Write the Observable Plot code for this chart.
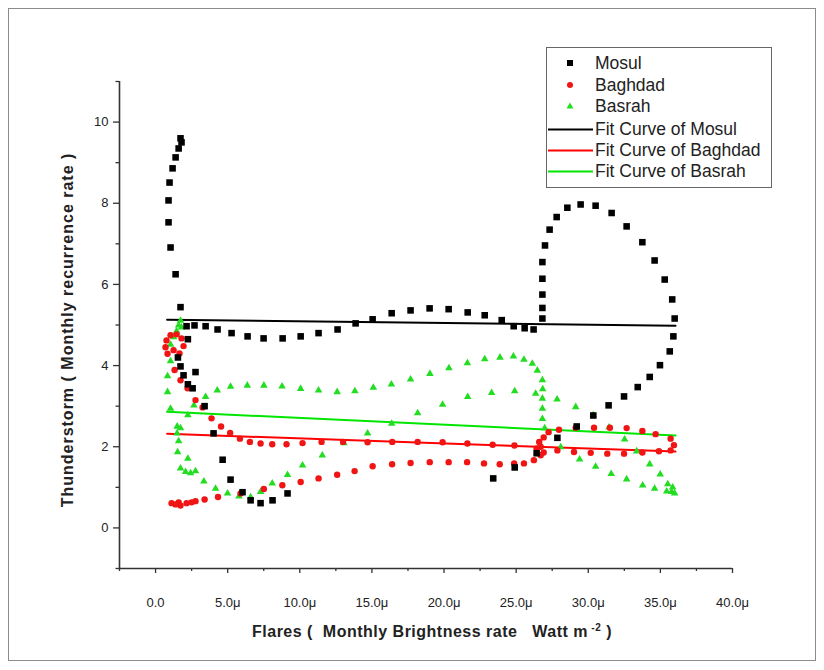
<!DOCTYPE html>
<html><head><meta charset="utf-8">
<script src="https://cdn.jsdelivr.net/npm/d3@7"></script>
<script src="https://cdn.jsdelivr.net/npm/@observablehq/plot@0.6"></script>
<style>
body{margin:0;background:#fff;}
#wrap{position:relative;width:824px;height:670px;font-family:"Liberation Sans",Arial,sans-serif;overflow:hidden;}
#frame{position:absolute;left:8px;top:8px;width:808px;height:653px;border:1.5px solid #8c8c8c;box-sizing:border-box;pointer-events:none;}
#chart{position:absolute;left:0;top:0;}
#xtitle{position:absolute;left:0;width:864px;top:622px;text-align:center;font-weight:bold;font-size:16px;letter-spacing:0.5px;color:#222;white-space:pre;}
#xtitle sup{font-size:10px;}
#ytitle{position:absolute;left:68px;top:330px;transform:translate(-50%,-50%) rotate(-90deg);font-weight:bold;font-size:16px;letter-spacing:1px;color:#222;white-space:pre;}
#legend{position:absolute;left:546px;top:47px;width:226px;height:141px;border:1.2px solid #666;box-sizing:border-box;background:#fff;}
.lg{position:absolute;left:0;height:20px;font-size:17.5px;color:#222;white-space:nowrap;}
.lg span{position:absolute;left:48px;top:-1px;}
.lg svg{position:absolute;left:0;top:0;}
</style>
</head><body>
<div id="wrap">
  <div id="chart"></div>
  <div id="ytitle">Thunderstorm ( Monthly recurrence rate )</div>
  <div id="xtitle">Flares (  Monthly Brightness rate   Watt m<sup> -2</sup> )</div>
  <div id="legend"></div>
  <div id="frame"></div>
</div>
<script>
// ---- Data (x in micro-Watt m^-2, y = monthly thunderstorm recurrence) ----
const mosulX = [1.73,1.80,1.60,1.39,1.18,0.97,0.90,0.90,1.04,1.39,1.73,
  2.15,2.70,3.47,4.30,5.27,6.38,7.49,8.81,10.06,11.30,12.62,13.87,15.05,16.37,17.68,19.00,20.32,21.64,22.82,24.00,24.83,25.59,26.21,
  26.82,26.82,26.82,26.82,26.82,27.00,27.32,27.81,28.55,29.47,30.51,31.62,32.66,33.75,34.60,35.30,35.82,35.99,35.90,35.65,34.97,34.26,33.43,32.48,31.41,30.35,29.20,27.86,26.42,24.90,23.41,
  2.24,1.55,1.73,1.94,2.24,2.57,2.77,3.40,4.02,4.65,5.20,6.03,6.59,7.28,8.11,9.15];
const mosulY = [9.60,9.50,9.35,9.13,8.86,8.51,8.07,7.53,6.91,6.25,5.44,
  4.97,4.99,4.97,4.89,4.80,4.72,4.67,4.67,4.72,4.80,4.89,5.04,5.14,5.29,5.36,5.41,5.39,5.31,5.24,5.12,4.97,4.92,4.89,
  5.16,5.42,5.75,6.14,6.55,6.96,7.35,7.66,7.89,7.97,7.94,7.76,7.43,7.04,6.59,6.12,5.63,5.16,4.72,4.35,4.01,3.72,3.47,3.24,3.02,2.77,2.50,2.22,1.84,1.49,1.22,
  4.65,4.20,3.98,3.76,3.54,3.44,3.84,3.00,2.33,1.68,1.19,0.88,0.68,0.61,0.68,0.85];

const baghdadX = [0.76,1.04,1.46,1.80,0.69,1.94,0.83,1.25,1.66,
  1.32,1.73,2.22,2.77,3.26,3.88,4.54,5.17,5.85,6.54,7.28,8.09,9.08,10.19,11.51,13.00,14.70,16.41,18.17,19.90,21.62,23.37,24.88,26.42,
  26.70,26.60,26.91,27.25,27.97,29.13,30.40,31.50,32.66,33.75,34.67,35.71,35.94,35.71,34.90,33.75,32.48,31.32,30.17,29.01,27.86,26.91,26.70,26.23,25.54,
  24.86,23.86,22.77,21.60,20.32,19.01,17.68,16.40,15.05,13.80,12.59,11.30,10.06,8.79,7.51,5.89,4.33,3.40,
  2.77,2.50,2.15,1.73,1.60,1.39,1.11];
const baghdadY = [4.62,4.75,4.77,4.67,4.45,4.48,4.29,4.38,4.30,
  3.89,3.64,3.44,3.15,2.97,2.70,2.50,2.34,2.20,2.12,2.08,2.06,2.06,2.09,2.12,2.12,2.11,2.12,2.12,2.11,2.08,2.05,2.03,1.96,
  2.00,2.12,2.23,2.36,2.42,2.47,2.47,2.47,2.46,2.39,2.31,2.20,2.04,1.91,1.89,1.86,1.83,1.83,1.85,1.87,1.91,1.86,1.79,1.67,1.59,
  1.59,1.57,1.59,1.62,1.62,1.62,1.60,1.57,1.52,1.40,1.31,1.22,1.13,1.05,0.96,0.85,0.76,0.70,
  0.66,0.63,0.61,0.55,0.63,0.58,0.61];

const basrahX = [1.73,1.60,1.80,1.46,1.25,1.04,
  1.04,0.83,0.83,1.04,
  1.50,1.73,1.49,1.60,1.53,2.24,1.73,2.08,2.43,2.77,3.35,4.16,4.99,5.78,6.59,7.28,8.09,9.15,10.19,11.56,13.06,14.70,16.37,18.17,19.90,21.64,23.30,24.90,26.35,
  2.24,2.66,3.47,4.28,5.20,6.36,7.51,8.77,10.06,11.30,12.59,13.82,15.10,16.35,17.68,19.02,20.34,21.62,22.82,23.88,24.81,25.54,26.12,26.47,
  26.82,26.84,26.82,26.82,26.82,26.98,
  27.84,29.13,30.34,31.44,32.52,33.36,34.26,34.99,35.51,35.78,
  28.09,29.40,30.51,31.59,32.66,33.77,34.60,35.44,35.99,35.85];
const basrahY = [5.11,4.99,4.94,4.85,4.70,4.52,
  4.11,3.74,3.35,2.94,
  2.50,2.46,2.33,2.14,1.87,1.71,1.47,1.38,1.35,1.40,1.15,0.97,0.85,0.78,0.76,0.89,1.10,1.31,1.54,1.79,2.09,2.33,2.57,2.83,3.04,3.23,3.33,3.37,3.31,
  2.78,3.02,3.23,3.39,3.48,3.51,3.51,3.49,3.43,3.39,3.35,3.37,3.46,3.54,3.66,3.80,3.94,4.06,4.16,4.20,4.23,4.15,4.05,3.88,
  3.64,3.42,3.19,2.94,2.69,2.46,
  3.17,2.98,2.78,2.48,2.18,1.89,1.57,1.32,1.08,0.89,
  1.99,1.69,1.51,1.33,1.20,1.05,0.97,0.90,0.85,1.00];

// Linear fit curves (end points)
const fitX = [0.8, 36.05];
const fitMosul = [5.13, 4.98];
const fitBaghdad = [2.32, 1.88];
const fitBasrah = [2.86, 2.28];

// Axes
const xTicks = [0, 5, 10, 15, 20, 25, 30, 35, 40];
const xTickLabels = ["0.0","5.0\u03bc","10.0\u03bc","15.0\u03bc","20.0\u03bc","25.0\u03bc","30.0\u03bc","35.0\u03bc","40.0\u03bc"];
const xMinor = [-2.5, 2.5, 7.5, 12.5, 17.5, 22.5, 27.5, 32.5, 37.5];
const yTicks = [0, 2, 4, 6, 8, 10];
const yMinor = [-1, 1, 3, 5, 7, 9, 11];

const seriesNames = ["Mosul", "Baghdad", "Basrah"];
const markerColors = ["#000000", "#f01414", "#22dd22"];
const lineColors = ["#000000", "#ff0000", "#00e600"];

// ---- Build tables ----
const toPts = (xs, ys) => xs.map((x, i) => ({x, y: ys[i]}));
const mosul = toPts(mosulX, mosulY);
const baghdad = toPts(baghdadX, baghdadY);
const basrah = toPts(basrahX, basrahY);
const fits = [fitMosul, fitBaghdad, fitBasrah].flatMap((ys, k) =>
  fitX.map((x, i) => ({x, y: ys[i], s: seriesNames[k]})));
const xLabelMap = new Map(xTicks.map((t, i) => [t, xTickLabels[i]]));

const axisColor = "#333";
const chart = Plot.plot({
  width: 824, height: 670,
  marginLeft: 119, marginRight: 92, marginTop: 81, marginBottom: 102,
  x: {domain: [-2.5, 40]},
  y: {domain: [-1, 11]},
  style: {fontFamily: "'Liberation Sans', Arial, sans-serif", fontSize: "13px", color: "#222", background: "transparent", overflow: "visible"},
  marks: [
    Plot.axisY(yTicks, {tickSize: 6, tickPadding: 5, label: null, stroke: axisColor, strokeWidth: 1.3, fontSize: 13}),
    Plot.axisY(yMinor, {tickSize: 3.5, text: null, label: null, stroke: axisColor, strokeWidth: 1.3}),
    Plot.axisX(xTicks, {tickSize: 5, tickPadding: 24, label: null, tickFormat: d => xLabelMap.get(d), stroke: axisColor, strokeWidth: 1.3, fontSize: 13}),
    Plot.axisX(xMinor, {tickSize: 3, text: null, label: null, stroke: axisColor, strokeWidth: 1.3}),
    Plot.ruleX([-2.5], {stroke: axisColor, strokeWidth: 1.6}),
    Plot.ruleY([-1], {stroke: axisColor, strokeWidth: 1.6}),
    Plot.line(fits, {x: "x", y: "y", z: "s", stroke: d => lineColors[seriesNames.indexOf(d.s)], strokeWidth: 2}),
    Plot.dot(basrah, {x: "x", y: "y", symbol: "triangle", r: 2.8, fill: markerColors[2], stroke: "none"}),
    Plot.dot(baghdad, {x: "x", y: "y", symbol: "circle", r: 3.2, fill: markerColors[1], stroke: "none"}),
    Plot.dot(mosul, {x: "x", y: "y", symbol: "square", r: 3.7, fill: markerColors[0], stroke: "none"})
  ]
});
document.getElementById("chart").appendChild(chart);

// ---- Legend ----
const legend = document.getElementById("legend");
const entries = [
  {label: "Mosul", kind: "square", color: markerColors[0]},
  {label: "Baghdad", kind: "circle", color: markerColors[1]},
  {label: "Basrah", kind: "triangle", color: markerColors[2]},
  {label: "Fit Curve of Mosul", kind: "line", color: lineColors[0]},
  {label: "Fit Curve of Baghdad", kind: "line", color: lineColors[1]},
  {label: "Fit Curve of Basrah", kind: "line", color: lineColors[2]}
];
const rowTop = [6, 28, 49, 72, 93, 114];
entries.forEach((e, i) => {
  const row = document.createElement("div");
  row.className = "lg";
  row.style.top = rowTop[i] + "px";
  let sym = "";
  if (e.kind === "square") sym = `<rect x="20" y="6" width="6" height="6" fill="${e.color}"/>`;
  if (e.kind === "circle") sym = `<circle cx="23" cy="9" r="3" fill="${e.color}"/>`;
  if (e.kind === "triangle") sym = `<path d="M23,5.5 L26.5,11.5 L19.5,11.5 Z" fill="${e.color}"/>`;
  if (e.kind === "line") sym = `<line x1="1" x2="46" y1="9.5" y2="9.5" stroke="${e.color}" stroke-width="2"/>`;
  row.innerHTML = `<svg width="48" height="20">${sym}</svg><span>${e.label}</span>`;
  legend.appendChild(row);
});
</script>
</body></html>
